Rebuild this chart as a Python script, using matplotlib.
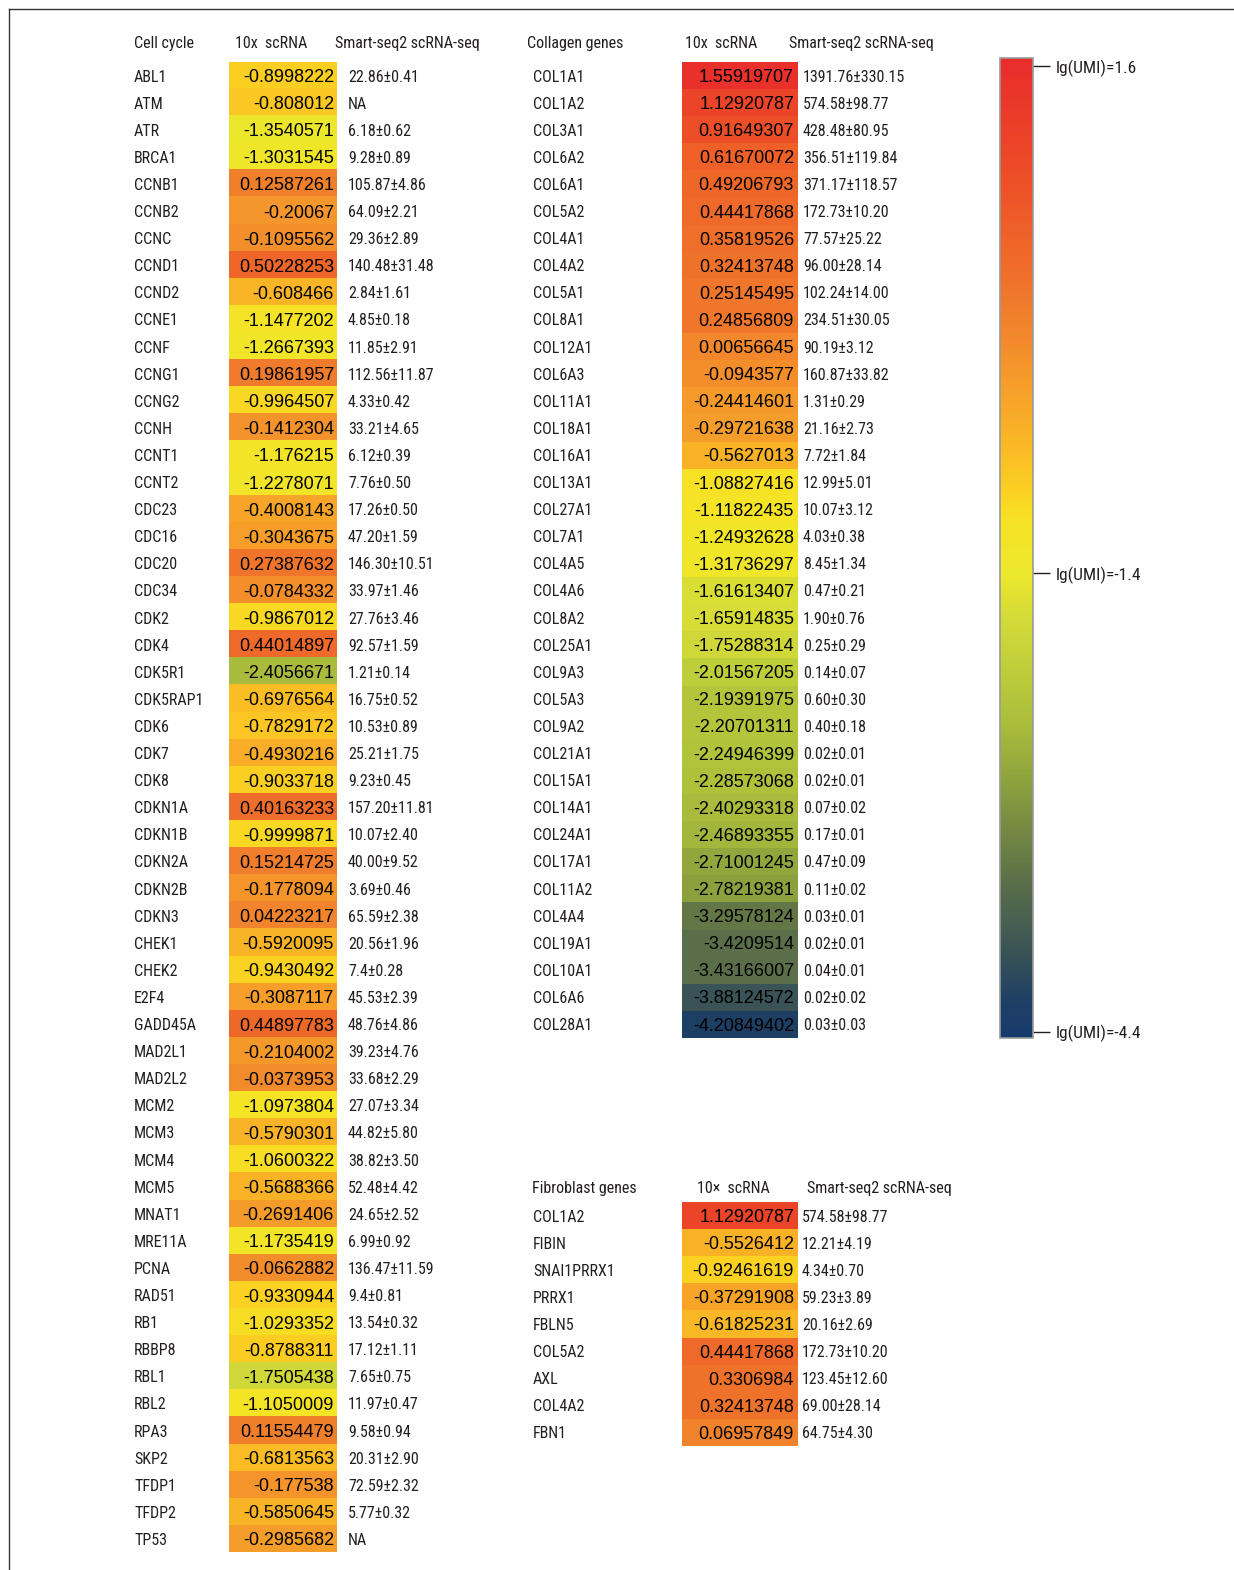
import numpy as np
import matplotlib
matplotlib.use("Agg")
import matplotlib.pyplot as plt
from matplotlib import font_manager
from matplotlib.colors import LinearSegmentedColormap, FuncNorm
from matplotlib.cm import ScalarMappable
from matplotlib.lines import Line2D

# ---- data ----
cc_genes = ["ABL1", "ATM", "ATR", "BRCA1", "CCNB1", "CCNB2", "CCNC", "CCND1", "CCND2",
            "CCNE1", "CCNF", "CCNG1", "CCNG2", "CCNH", "CCNT1", "CCNT2", "CDC23", "CDC16",
            "CDC20", "CDC34", "CDK2", "CDK4", "CDK5R1", "CDK5RAP1", "CDK6", "CDK7", "CDK8",
            "CDKN1A", "CDKN1B", "CDKN2A", "CDKN2B", "CDKN3", "CHEK1", "CHEK2", "E2F4",
            "GADD45A", "MAD2L1", "MAD2L2", "MCM2", "MCM3", "MCM4", "MCM5", "MNAT1", "MRE11A",
            "PCNA", "RAD51", "RB1", "RBBP8", "RBL1", "RBL2", "RPA3", "SKP2", "TFDP1", "TFDP2",
            "TP53"]
cc_10x = [-0.8998222, -0.808012, -1.3540571, -1.3031545, 0.12587261, -0.20067, -0.1095562,
          0.50228253, -0.608466, -1.1477202, -1.2667393, 0.19861957, -0.9964507, -0.1412304,
          -1.176215, -1.2278071, -0.4008143, -0.3043675, 0.27387632, -0.0784332, -0.9867012,
          0.44014897, -2.4056671, -0.6976564, -0.7829172, -0.4930216, -0.9033718, 0.40163233,
          -0.9999871, 0.15214725, -0.1778094, 0.04223217, -0.5920095, -0.9430492, -0.3087117,
          0.44897783, -0.2104002, -0.0373953, -1.0973804, -0.5790301, -1.0600322, -0.5688366,
          -0.2691406, -1.1735419, -0.0662882, -0.9330944, -1.0293352, -0.8788311, -1.7505438,
          -1.1050009, 0.11554479, -0.6813563, -0.177538, -0.5850645, -0.2985682]
cc_smart = ["22.86±0.41", "NA", "6.18±0.62", "9.28±0.89", "105.87±4.86", "64.09±2.21",
            "29.36±2.89", "140.48±31.48", "2.84±1.61", "4.85±0.18", "11.85±2.91",
            "112.56±11.87", "4.33±0.42", "33.21±4.65", "6.12±0.39", "7.76±0.50", "17.26±0.50",
            "47.20±1.59", "146.30±10.51", "33.97±1.46", "27.76±3.46", "92.57±1.59",
            "1.21±0.14", "16.75±0.52", "10.53±0.89", "25.21±1.75", "9.23±0.45",
            "157.20±11.81", "10.07±2.40", "40.00±9.52", "3.69±0.46", "65.59±2.38",
            "20.56±1.96", "7.4±0.28", "45.53±2.39", "48.76±4.86", "39.23±4.76", "33.68±2.29",
            "27.07±3.34", "44.82±5.80", "38.82±3.50", "52.48±4.42", "24.65±2.52", "6.99±0.92",
            "136.47±11.59", "9.4±0.81", "13.54±0.32", "17.12±1.11", "7.65±0.75",
            "11.97±0.47", "9.58±0.94", "20.31±2.90", "72.59±2.32", "5.77±0.32", "NA"]

col_genes = ["COL1A1", "COL1A2", "COL3A1", "COL6A2", "COL6A1", "COL5A2", "COL4A1", "COL4A2",
             "COL5A1", "COL8A1", "COL12A1", "COL6A3", "COL11A1", "COL18A1", "COL16A1",
             "COL13A1", "COL27A1", "COL7A1", "COL4A5", "COL4A6", "COL8A2", "COL25A1", "COL9A3",
             "COL5A3", "COL9A2", "COL21A1", "COL15A1", "COL14A1", "COL24A1", "COL17A1",
             "COL11A2", "COL4A4", "COL19A1", "COL10A1", "COL6A6", "COL28A1"]
col_10x = [1.55919707, 1.12920787, 0.91649307, 0.61670072, 0.49206793, 0.44417868, 0.35819526,
           0.32413748, 0.25145495, 0.24856809, 0.00656645, -0.0943577, -0.24414601,
           -0.29721638, -0.5627013, -1.08827416, -1.11822435, -1.24932628, -1.31736297,
           -1.61613407, -1.65914835, -1.75288314, -2.01567205, -2.19391975, -2.20701311,
           -2.24946399, -2.28573068, -2.40293318, -2.46893355, -2.71001245, -2.78219381,
           -3.29578124, -3.4209514, -3.43166007, -3.88124572, -4.20849402]
col_smart = ["1391.76±330.15", "574.58±98.77", "428.48±80.95", "356.51±119.84",
             "371.17±118.57", "172.73±10.20", "77.57±25.22", "96.00±28.14", "102.24±14.00",
             "234.51±30.05", "90.19±3.12", "160.87±33.82", "1.31±0.29", "21.16±2.73",
             "7.72±1.84", "12.99±5.01", "10.07±3.12", "4.03±0.38", "8.45±1.34", "0.47±0.21",
             "1.90±0.76", "0.25±0.29", "0.14±0.07", "0.60±0.30", "0.40±0.18", "0.02±0.01",
             "0.02±0.01", "0.07±0.02", "0.17±0.01", "0.47±0.09", "0.11±0.02", "0.03±0.01",
             "0.02±0.01", "0.04±0.01", "0.02±0.02", "0.03±0.03"]

fib_genes = ["COL1A2", "FIBIN", "SNAI1PRRX1", "PRRX1", "FBLN5", "COL5A2", "AXL", "COL4A2", "FBN1"]
fib_10x = [1.12920787, -0.5526412, -0.92461619, -0.37291908, -0.61825231, 0.44417868,
           0.3306984, 0.32413748, 0.06957849]
fib_smart = ["574.58±98.77", "12.21±4.19", "4.34±0.70", "59.23±3.89", "20.16±2.69",
             "172.73±10.20", "123.45±12.60", "69.00±28.14", "64.75±4.30"]

cbar_ticks = [1.6, -1.4, -4.4]
cbar_labels = ["lg(UMI)=1.6", "lg(UMI)=-1.4", "lg(UMI)=-4.4"]

# ---- colour scale ----
vmin, vmid, vmax = -4.44, -1.4, 1.65
pos_mid = 0.4745


def fwd(x):
    return np.interp(x, [vmin, vmid, vmax], [0, pos_mid, 1])


def inv(y):
    return np.interp(y, [0, pos_mid, 1], [vmin, vmid, vmax])


norm = FuncNorm((fwd, inv), vmin=vmin, vmax=vmax)
nodes = [(-4.44, "#163a6c"), (-4.2, "#1f4064"), (-3.88, "#3a5456"), (-3.4, "#5c7148"),
         (-2.75, "#8fa33e"), (-2.4, "#a9bc3c"), (-2.0, "#c0cf3a"), (-1.7, "#d3db38"),
         (-1.4, "#ece82c"), (-1.1, "#f6e326"), (-0.9, "#fccf22"), (-0.55, "#f9b127"),
         (-0.2, "#f5972b"), (0.12, "#f1802d"), (0.45, "#ef6a2a"), (0.9, "#ed5127"),
         (1.13, "#ec4528"), (1.65, "#e92c2b")]
cmap = LinearSegmentedColormap.from_list("umi", [(float(fwd(v)), c) for v, c in nodes])

# pick a narrow font for the labels if one is around
names = sorted({f.name for f in font_manager.fontManager.ttflist})
narrow_name = None
for want in ["Liberation Sans Narrow", "DejaVu Sans Condensed", "Roboto Condensed",
             "Open Sans Condensed", "Noto Sans Condensed"]:
    if want in names:
        narrow_name = want
        break
if narrow_name is None:
    for n in names:
        if "Narrow" in n or "Condensed" in n:
            narrow_name = n
            break
if narrow_name is None:
    narrow = ["Liberation Sans", "DejaVu Sans"]
    FS = 10.5
else:
    narrow = [narrow_name, "DejaVu Sans"]
    FS = 11.5

W, H = 1234, 1570
fig = plt.figure(figsize=(W / 100, H / 100), dpi=100)
fig.patch.set_facecolor("white")

txtc = "#231f20"


def px_axes(x0, y0, x1, y1):
    return fig.add_axes([x0 / W, 1 - y1 / H, (x1 - x0) / W, (y1 - y0) / H])


def table(x0, x1, y0, genes, vals, smart, gene_off, smart_off, heads, head_offs, head_dy):
    n = len(genes)
    ax = px_axes(x0, y0, x1, y0 + n * 27.1)
    ax.imshow(np.array(vals).reshape(-1, 1), cmap=cmap, norm=norm, aspect="auto",
              extent=(0, 1, n - 0.5, -0.5), interpolation="nearest")
    ax.set_xlim(0, 1)
    ax.set_ylim(n - 0.5, -0.5)
    ax.axis("off")
    for i in range(n):
        ax.annotate(str(vals[i]), (1, i), xytext=(-3, 0), textcoords="offset pixels",
                    ha="right", va="center_baseline", fontsize=13,
                    family=["Liberation Sans", "DejaVu Sans"], color="black")
        ax.annotate(genes[i], (0, i), xytext=(gene_off, 0), textcoords="offset pixels",
                    ha="left", va="center_baseline", fontsize=FS, family=narrow, color=txtc,
                    annotation_clip=False)
        ax.annotate(smart[i], (1, i), xytext=(smart_off, 0), textcoords="offset pixels",
                    ha="left", va="center_baseline", fontsize=FS, family=narrow, color=txtc,
                    annotation_clip=False)
    for (s, (ref, off)) in zip(heads, head_offs):
        ax.annotate(s, (ref, -0.5), xytext=(off, head_dy), textcoords="offset pixels",
                    ha="left", va="center_baseline", fontsize=FS, family=narrow, color=txtc,
                    annotation_clip=False)
    return ax


table(229, 337, 62, cc_genes, cc_10x, cc_smart, -95, 11,
      ["Cell cycle", "10x  scRNA", "Smart-seq2 scRNA-seq"],
      [(0, -95), (0, 6), (1, -2)], 20)
table(682, 797, 62, col_genes, col_10x, col_smart, -149, 6,
      ["Collagen genes", "10x  scRNA", "Smart-seq2 scRNA-seq"],
      [(0, -155), (0, 3), (1, -8)], 20)
table(682, 797, 1202, fib_genes, fib_10x, fib_smart, -149, 5,
      ["Fibroblast genes", "10×  scRNA", "Smart-seq2 scRNA-seq"],
      [(0, -150), (0, 15), (1, 10)], 15)

# ---- colour bar ----
cax = px_axes(1000, 58, 1033, 1038)
cb = fig.colorbar(ScalarMappable(norm=norm, cmap=cmap), cax=cax, ticks=cbar_ticks)
cb.ax.set_yticklabels(cbar_labels)
cb.outline.set_edgecolor("#9a9a9a")
cb.outline.set_linewidth(1.2)
cb.ax.tick_params(length=12, width=1.0, pad=4.5, color="#231f20", labelcolor=txtc,
                  labelsize=FS + 1)
for t in cb.ax.get_yticklabels():
    t.set_family(narrow)

# ---- frame ----
fig.add_artist(Line2D([9 / W, 1], [1 - 9 / H, 1 - 9 / H], color="#333333", lw=1.0))
fig.add_artist(Line2D([9 / W, 9 / W], [0, 1 - 9 / H], color="#333333", lw=1.0))

fig.savefig("out.png", dpi=100, facecolor="white")
